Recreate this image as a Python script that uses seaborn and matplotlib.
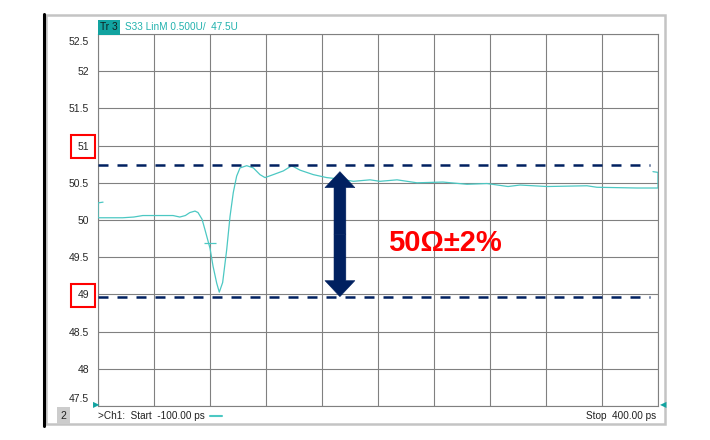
"""S33 impedance trace (TDR) with 50 ohm +/-2% limit lines."""

import matplotlib

matplotlib.use("Agg")
import matplotlib.pyplot as plt
import seaborn as sns
from matplotlib.patches import Rectangle
from matplotlib.lines import Line2D
from matplotlib.transforms import ScaledTranslation

# trace: time in ps, impedance in ohm
time_ps = [-95.5, -100, -100, -90, -78, -68, -60, -45, -33, -27, -22, -18, -13.4, -10.7,
           -7.1, -4.5, -1.8, 0.0, 2.7, 6.0, 8.3, 11.3, 14.9, 17.9, 20.8, 23.8, 26.8,
           32.8, 38.7, 44.6, 49.1, 56.5, 65.5, 73.0, 80.4, 92.2, 104.2, 116.1, 128.0,
           142.9, 151.8, 167.0, 184.8, 208.0, 229.5, 247.3, 266.1, 276.8, 300.9,
           336.6, 345.5, 381.3, 400, 400, 395.5]
s33 = [50.24, 50.23, 50.03, 50.03, 50.03, 50.04, 50.06, 50.06, 50.06, 50.04, 50.06,
       50.10, 50.12, 50.10, 50.01, 49.87, 49.72, 49.62, 49.38, 49.15, 49.03, 49.16,
       49.60, 50.05, 50.37, 50.59, 50.70, 50.73, 50.70, 50.61, 50.57, 50.61, 50.66,
       50.73, 50.67, 50.61, 50.57, 50.55, 50.52, 50.54, 50.52, 50.54, 50.50, 50.51,
       50.48, 50.49, 50.45, 50.47, 50.45, 50.46, 50.44, 50.43, 50.43, 50.64, 50.65]

# marker "+" on the trace
marker_time = [0.0]
marker_value = [49.69]

# limit lines and arrow
limit_values = [50.74, 48.97]
limit_span = [-100, 393]
arrow_time = 116
arrow_ends = [48.97, 50.65]
label_text = "50\u03a9\u00b12%"
label_pos = (159, 49.69)

y_ticks = [47.5, 48, 48.5, 49, 49.5, 50, 50.5, 51, 51.5, 52, 52.5]
y_ticklabels = ["47.5", "48", "48.5", "49", "49.5", "50", "50.5", "51", "51.5", "52", "52.5"]
boxed_labels = ["51", "49"]
x_ticks = [-100, -50, 0, 50, 100, 150, 200, 250, 300, 350, 400]

trace_color = "#4cc8c3"
teal = "#12a3a0"
navy = "#002060"

sns.set_theme(style="white")
plt.rcParams["font.family"] = ["Liberation Sans", "DejaVu Sans"]

W, H = 710, 440
fig = plt.figure(figsize=(W / 100, H / 100), dpi=100)
ax = fig.add_axes([98 / W, 34 / H, 560 / W, 372 / H])

sns.lineplot(x=time_ps, y=s33, sort=False, estimator=None, color=trace_color,
             linewidth=0.9, ax=ax, zorder=3)
ax.plot(marker_time, marker_value, marker="_", markersize=8, markeredgewidth=0.9,
        color=trace_color, linestyle="none", zorder=3)

ax.hlines(limit_values, limit_span[0], limit_span[1], colors=navy,
          linestyles=(0, (4, 3.6)), linewidth=1.8, zorder=4)

mid = sum(arrow_ends) / 2
for end in arrow_ends:
    ax.annotate("", xy=(arrow_time, end), xytext=(arrow_time, mid),
                arrowprops=dict(arrowstyle="simple,head_length=1.15,head_width=2.15,tail_width=0.85",
                                fc=navy, ec=navy, lw=0.4, shrinkA=0, shrinkB=0,
                                mutation_scale=10), zorder=5)

ax.text(label_pos[0], label_pos[1], label_text, color="#ff0000", fontsize=21,
        fontweight="bold", va="center", ha="left", zorder=6)

ax.set_xlim(x_ticks[0], x_ticks[-1])
ax.set_ylim(y_ticks[0], y_ticks[-1])
ax.set_xticks(x_ticks)
ax.set_xticklabels([])
ax.set_yticks(y_ticks, y_ticklabels)
ax.grid(True, color="#808080", linewidth=0.8)
ax.tick_params(axis="both", length=0)
ax.tick_params(axis="y", pad=6.5, labelsize=7.5, labelcolor="#262626")
ax.set_xlabel("")
ax.set_ylabel("")
for sp in ax.spines.values():
    sp.set_color("#808080")
    sp.set_linewidth(0.8)

for lab in ax.get_yticklabels():
    txt = lab.get_text()
    if txt in boxed_labels:
        lab.set_bbox(dict(boxstyle="square,pad=0.6", fc="white", ec="#ff0000", lw=1.5))
    if txt == "52.5":
        lab.set_transform(lab.get_transform() + ScaledTranslation(0, -0.07, fig.dpi_scale_trans))
    if txt == "47.5":
        lab.set_transform(lab.get_transform() + ScaledTranslation(0, 0.08, fig.dpi_scale_trans))

# instrument window frame
fig.patches.append(Rectangle((46 / W, 1 - 424 / H), 619 / W, 409 / H, transform=fig.transFigure,
                             fill=False, ec="#c4c4c4", lw=1.8, zorder=0))
fig.lines.append(Line2D([44 / W, 44 / W], [1 - 14 / H, 1 - 426 / H], transform=fig.transFigure,
                        color="black", lw=2.2))

# header
hy = 1 - 27.5 / H
fig.text(100 / W, hy, "Tr 3", fontsize=7.3, color="#102020", va="center", ha="left",
         bbox=dict(boxstyle="square,pad=0.2", fc=teal, ec="none"))
fig.text(125 / W, hy, "S33 LinM 0.500U/  47.5U", fontsize=7.2, color="#22b2ae",
         va="center", ha="left")

# footer
fy = 1 - 415.5 / H
fig.text(63.5 / W, fy, "2", fontsize=7.5, color="#202020", va="center", ha="center",
         bbox=dict(boxstyle="square,pad=0.35", fc="#cccccc", ec="none"))
fig.text(98 / W, fy, ">Ch1:  Start  -100.00 ps", fontsize=7.2, color="#202020",
         va="center", ha="left")
fig.lines.append(Line2D([210 / W, 222 / W], [fy, fy], transform=fig.transFigure,
                        color=trace_color, lw=1.5))
fig.text(656 / W, fy, "Stop  400.00 ps", fontsize=7.2, color="#202020",
         va="center", ha="right")
fig.text(93 / W, 1 - 405.5 / H, "\u25b6", fontsize=6, color=teal, va="center", ha="left")
fig.text(666 / W, 1 - 405.5 / H, "\u25c0", fontsize=6, color=teal, va="center", ha="right")

fig.savefig("out.png", dpi=100)
plt.close(fig)
